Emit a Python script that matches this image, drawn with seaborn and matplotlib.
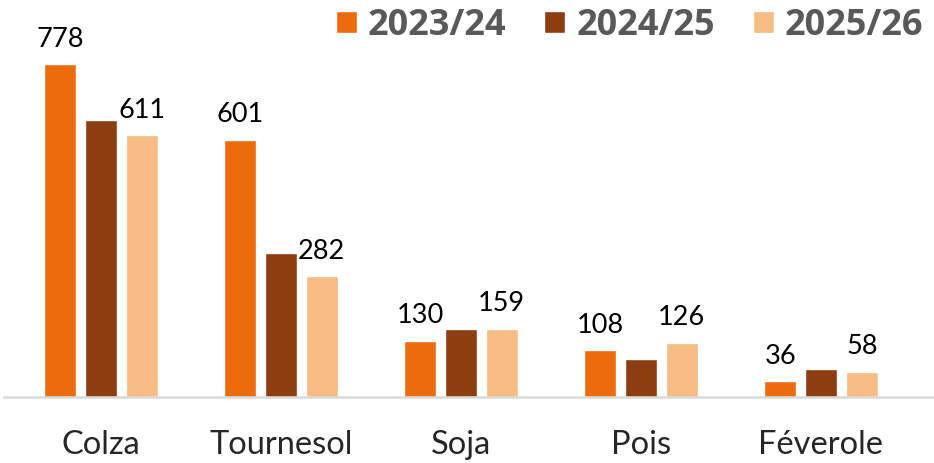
import pandas as pd
import matplotlib.pyplot as plt
import seaborn as sns

## data
cultures = ['Colza', 'Tournesol', 'Soja', 'Pois', 'Féverole']
campagnes = ['2023/24', '2024/25', '2025/26']
val_2023 = [778, 601, 130, 108, 36]
val_2024 = [647, 336, 158, 88, 64]
val_2025 = [611, 282, 159, 126, 58]

couleurs = ['#EC6C0D', '#8C3E10', '#F7BB84']

## long format for seaborn
df = pd.DataFrame({
    'culture': cultures * 3,
    'campagne': [c for c in campagnes for _ in cultures],
    'valeur': val_2023 + val_2024 + val_2025,
})

sns.set_style('white')
plt.rcParams['font.family'] = ['Lato', 'DejaVu Sans']

fig = plt.figure(figsize=(9.34, 4.63), dpi=100)
ax = fig.add_axes([4 / 934, 66.5 / 463, 930 / 934, 396.5 / 463])

sns.barplot(df, x='culture', y='valeur', hue='campagne', palette=couleurs,
            width=0.68, gap=0.22, ax=ax, saturation=1)

## value labels only on first and last series
for i in (0, 2):
    ax.bar_label(ax.containers[i], fontsize=19.5, padding=9, color='black')

ax.set_xlim(-0.539, 4.628)
ax.set_ylim(0, 928)
ax.set_xlabel('')
ax.set_ylabel('')
ax.set_yticks([])
ax.tick_params(axis='x', length=0, pad=24, labelsize=23.5)
for s in ['top', 'right', 'left']:
    ax.spines[s].set_visible(False)
ax.spines['bottom'].set_color('#D9D9D9')
ax.spines['bottom'].set_linewidth(1.8)

## legend on top, along the right edge
handles, labels = ax.get_legend_handles_labels()
ax.legend_.remove()
fig.legend(handles, labels, loc='upper left', bbox_to_anchor=(336 / 934, 1 - 8 / 463),
           ncol=3, frameon=False, borderpad=0, borderaxespad=0,
           handlelength=0.58, handleheight=0.58, handletextpad=0.3, columnspacing=1.05,
           prop={'family': 'Open Sans', 'weight': 'bold', 'size': 26}, labelcolor='#595959')

plt.savefig('out.png', dpi=100)
